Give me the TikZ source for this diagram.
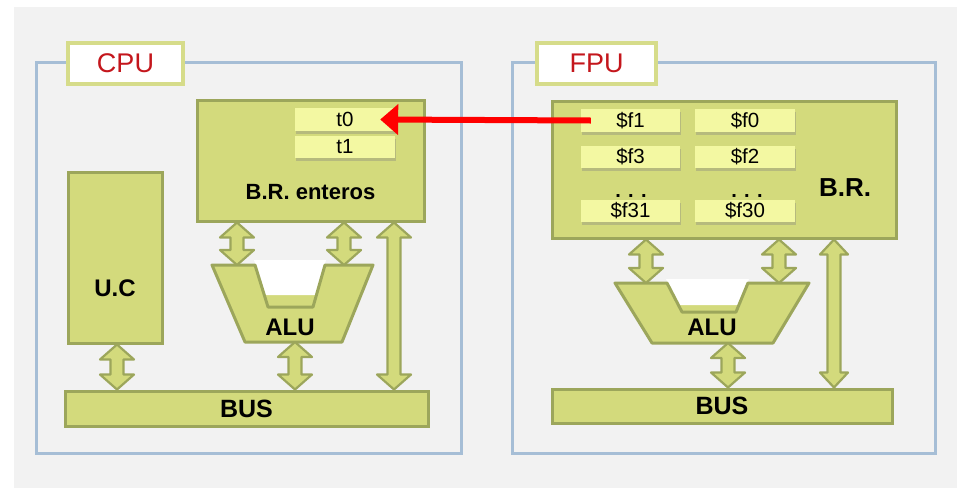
\documentclass[tikz,border=0pt]{standalone}
\usepackage{fontspec}
\setmainfont{Liberation Sans}
\usetikzlibrary{calc}
\usetikzlibrary{shadows}
\usetikzlibrary{arrows.meta}

\definecolor{bggray}{HTML}{F2F2F2}
\definecolor{framecol}{HTML}{A6BED6}
\definecolor{tagcol}{HTML}{D6DC8A}
\definecolor{tagred}{HTML}{C4161C}
\definecolor{unitfill}{HTML}{D3DA7C}
\definecolor{unitdraw}{HTML}{9CA65B}
\definecolor{regfill}{HTML}{F3F8A2}

\newcommand\fsz[1]{\fontsize{#1}{#1}\selectfont}
\newcommand\bsz[1]{\fontsize{#1}{#1}\selectfont\bfseries}

% fat double arrow between two points on one vertical line
\newcommand\fatarrow[3][17pt]{%
  \draw[fatline] let \p1 = #2, \p2 = #3 in
  (\x1, \y1) -- (\x1 + #1, \y1 - 15pt) -- (\x1 + 6.5pt, \y1 - 15pt)
  -- (\x1 + 6.5pt, \y2 + 15pt) -- (\x1 + #1, \y2 + 15pt) -- (\x1, \y2)
  -- (\x1 - #1, \y2 + 15pt) -- (\x1 - 6.5pt, \y2 + 15pt)
  -- (\x1 - 6.5pt, \y1 - 15pt) -- (\x1 - #1, \y1 - 15pt) -- cycle;
}

\tikzset{
  frame/.style = {draw = framecol, line width = 3pt, inner sep = 0pt},
  tag/.style = {draw = tagcol, fill = white, line width = 4pt, inner sep = 0pt,
    text = tagred, font = \fsz{27}},
  unit/.style = {draw = unitdraw, fill = unitfill, line width = 3pt, inner sep = 0pt},
  reg/.style = {fill = regfill, inner sep = 0pt, font = \fsz{20.5},
    drop shadow = {shadow xshift = 1pt, shadow yshift = -2.5pt, opacity = 0.35}},
  aluline/.style = {draw = unitdraw, line width = 3pt, line join = round},
  fatline/.style = {draw = unitdraw, fill = unitfill, line width = 2.2pt, line join = round},
  regline/.style = {draw = red, line width = 6pt,
    -{Triangle[width = 30pt, length = 18pt]}},
  word/.style = {inner sep = 0pt}
}

\begin{document}
\begin{tikzpicture}[x = 1pt, y = -1pt]
  \useasboundingbox (0, 0) rectangle (959, 488);
  \fill[bggray] (14, 7) rectangle (957, 488);

  % CPU
  \node[frame, minimum width = 425, minimum height = 391] (cpu) at (248.5, 257.5) {};
  \node[tag, minimum width = 115, minimum height = 41] (cputag) at (125.5, 63.5) {CPU};
  \node[unit, minimum width = 227, minimum height = 121] (brint) at (310.5, 160.5) {};
  \node[reg, minimum width = 100, minimum height = 23] (t0) at (345, 119.5) {t0};
  \node[reg, minimum width = 100, minimum height = 22] (t1) at (345, 147) {t1};
  \node[word, font = \bsz{22}] (brtxt) at (310.5, 192) {B.R. enteros};
  \node[unit, minimum width = 94, minimum height = 171] (uc) at (115, 257.5) {};
  \node[word, font = \bsz{24}] (uctxt) at (115, 288) {U.C};
  \node[unit, minimum width = 363, minimum height = 35, font = \bsz{25}]
  (cpubus) at (246.5, 408.5) {BUS};

  \fill[unitfill] (212, 265) -- (373, 265) -- (342, 342) -- (245, 342) -- cycle;
  \fill[white] (254, 260) -- (326, 260) -- (316, 295) -- (264, 295) -- cycle;
  \draw[aluline] (212, 265) -- (255, 265) -- (268, 307) -- (313, 307) -- (325, 265)
  -- (373, 265) -- (342, 342) -- (245, 342) -- cycle;
  \coordinate (alu1n) at (292, 265);
  \coordinate (alu1s) at (293, 342);
  \node[word, font = \bsz{24}] (alu1txt) at (290, 327) {ALU};

  \coordinate (ka) at (237, 0);
  \coordinate (kb) at (344, 0);
  \coordinate (kc) at (394, 0);
  \coordinate (kd) at (117, 0);
  \coordinate (ke) at (295, 0);
  \fatarrow{(brint.south -| ka)}{(alu1n -| ka)}
  \fatarrow{(brint.south -| kb)}{(alu1n -| kb)}
  \fatarrow{(brint.south -| kc)}{(cpubus.north -| kc)}
  \fatarrow{(uc.south -| kd)}{(cpubus.north -| kd)}
  \fatarrow{(alu1s -| ke)}{(cpubus.north -| ke)}

  % FPU
  \node[frame, minimum width = 423, minimum height = 391] (fpu) at (723.5, 257.5) {};
  \node[tag, minimum width = 119, minimum height = 41] (fputag) at (596.5, 63.5) {FPU};
  \node[unit, minimum width = 344, minimum height = 137] (brfp) at (724, 169.5) {};
  \foreach \l/\r/\y/\h in {1/0/120.5/23, 3/2/157/22, 31/30/211/22}{
    \node[reg, minimum width = 99, minimum height = \h] (f\l) at (630.5, \y) {\$f\l};
    \node[reg, minimum width = 100, minimum height = \h] (f\r) at (745, \y) {\$f\r};
  }
  \node[word, font = \bsz{20}, anchor = base] (dotsl) at (631, 197.5) {. . .};
  \node[word, font = \bsz{20}, anchor = base] (dotsr) at (747, 197.5) {. . .};
  \node[word, font = \bsz{26}] (brfptxt) at (845, 188) {B.R.};
  \node[unit, minimum width = 340, minimum height = 34, font = \bsz{25}]
  (fpubus) at (722, 406) {BUS};

  \fill[unitfill] (615, 283) -- (809, 283) -- (773, 343) -- (652, 343) -- cycle;
  \fill[white] (666, 279) -- (749, 279) -- (740, 305) -- (678, 305) -- cycle;
  \draw[aluline] (615, 283) -- (667, 283) -- (682, 312) -- (736, 312) -- (748, 283)
  -- (809, 283) -- (773, 343) -- (652, 343) -- cycle;
  \coordinate (alu2n) at (712, 283);
  \coordinate (alu2s) at (712, 343);
  \node[word, font = \bsz{24}] (alu2txt) at (712, 327) {ALU};

  \coordinate (kf) at (646, 0);
  \coordinate (kg) at (779, 0);
  \coordinate (kh) at (834, 0);
  \coordinate (ki) at (728, 0);
  \fatarrow{(brfp.south -| kf)}{(alu2n -| kf)}
  \fatarrow{(brfp.south -| kg)}{(alu2n -| kg)}
  \fatarrow[14pt]{(brfp.south -| kh)}{(fpubus.north -| kh)}
  \fatarrow{(alu2s -| ki)}{(fpubus.north -| ki)}

  \draw[regline] ($(f1.west) + (10, 0)$) -- ($(t0.east) + (-15, 0)$);
\end{tikzpicture}
\end{document}
